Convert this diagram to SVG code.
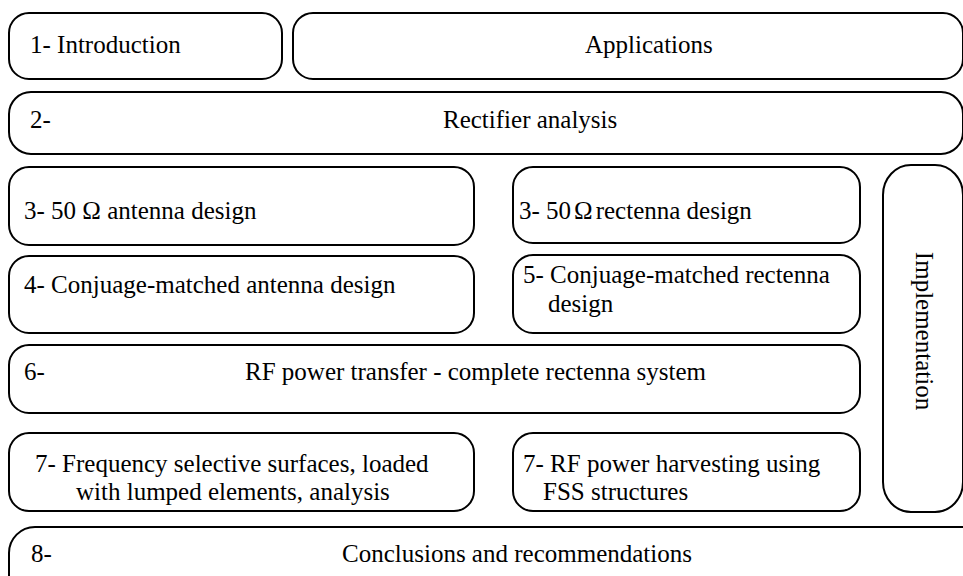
<svg xmlns="http://www.w3.org/2000/svg" width="963" height="576" viewBox="0 0 963 576">
  <style>
    .box { fill: #ffffff; stroke: #000000; stroke-width: 2; }
    .lbl { font-size: 25px; fill: #000000; }
  </style>
  <rect width="963" height="576" fill="#ffffff"/>

  <g font-family="Liberation Serif, Tinos, DejaVu Serif, serif">
  <g id="introduction">
    <rect class="box" x="9" y="13" width="273" height="66" rx="20" ry="20"/>
    <text class="lbl" x="30" y="53">1- Introduction</text>
  </g>

  <g id="applications">
    <rect class="box" x="293" y="13" width="670" height="66" rx="20" ry="20"/>
    <text class="lbl" x="585" y="53">Applications</text>
  </g>

  <g id="rectifier">
    <rect class="box" x="9" y="92" width="954" height="62" rx="22" ry="22"/>
    <text class="lbl" x="30" y="128">2-</text>
    <text class="lbl" x="443" y="128">Rectifier analysis</text>
  </g>

  <g id="antenna-50">
    <rect class="box" x="9" y="167" width="465" height="78" rx="20" ry="20"/>
    <text class="lbl" x="24" y="219">3- 50 Ω antenna design</text>
  </g>

  <g id="rectenna-50">
    <rect class="box" x="513" y="167" width="347" height="76" rx="20" ry="20"/>
    <text class="lbl" x="519" y="219">3- 50<tspan dx="3">Ω</tspan><tspan dx="3">rectenna design</tspan></text>
  </g>

  <g id="antenna-conjugate">
    <rect class="box" x="9" y="256" width="465" height="77" rx="20" ry="20"/>
    <text class="lbl" x="24" y="293">4- Conjuage-matched antenna design</text>
  </g>

  <g id="rectenna-conjugate">
    <rect class="box" x="513" y="255" width="347" height="78" rx="20" ry="20"/>
    <text class="lbl" x="523" y="283">5- Conjuage-matched rectenna</text>
    <text class="lbl" x="548" y="312">design</text>
  </g>

  <g id="power-transfer">
    <rect class="box" x="9" y="345" width="851" height="68" rx="20" ry="20"/>
    <text class="lbl" x="24" y="380">6-</text>
    <text class="lbl" x="245" y="380">RF power transfer - complete rectenna system</text>
  </g>

  <g id="implementation">
    <rect class="box" x="883" y="165" width="80" height="347" rx="28" ry="30"/>
    <text class="lbl" text-anchor="middle" transform="translate(916 331) rotate(90)">Implementation</text>
  </g>

  <g id="fss-analysis">
    <rect class="box" x="9" y="433" width="465" height="78" rx="20" ry="20"/>
    <text class="lbl" x="35" y="472">7- Frequency selective surfaces, loaded</text>
    <text class="lbl" x="76" y="500">with lumped elements, analysis</text>
  </g>

  <g id="fss-harvesting">
    <rect class="box" x="513" y="433" width="347" height="78" rx="20" ry="20"/>
    <text class="lbl" x="523" y="472">7- RF power harvesting using</text>
    <text class="lbl" x="543" y="500">FSS structures</text>
  </g>

  <g id="conclusions">
    <rect class="box" x="9" y="527" width="990" height="90" rx="26" ry="26"/>
    <text class="lbl" x="31" y="562">8-</text>
    <text class="lbl" x="342" y="562">Conclusions and recommendations</text>
  </g>
  </g>

  <g id="connectors"></g>
</svg>
